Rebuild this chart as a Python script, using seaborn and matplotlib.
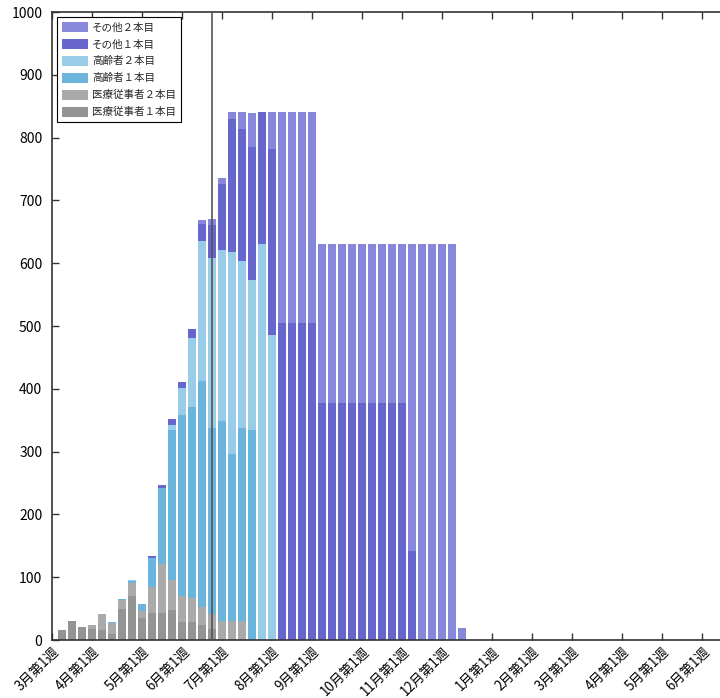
import matplotlib
matplotlib.use("Agg")
import matplotlib.pyplot as plt
import pandas as pd
import seaborn as sns

# ---- data (week index: 0 = 3月第1週) ----
weeks = list(range(1, 42))

iryo_1 = [16, 30, 21, 17, 16, 9, 49, 70, 35, 43, 43, 48, 28, 29, 24, 17] + [0] * 25
iryo_2 = [0, 0, 0, 7, 26, 18, 15, 20, 11, 42, 78, 47, 42, 38, 29, 25, 30, 30, 30] + [0] * 22
koreisha_1 = [0, 0, 0, 0, 0, 1.5, 2, 4, 12, 45, 121, 239, 288, 304, 360, 296,
              318, 266, 308, 334] + [0] * 21
koreisha_2 = [0, 0, 0, 0, 0, 0, 0, 1, 0, 0, 0, 9, 43, 110, 223, 270, 273, 322,
              266, 240, 630, 486] + [0] * 19
sonota_1 = [0] * 9 + [4, 5, 9, 10, 14, 26, 53, 105, 211, 210, 211, 210, 296,
                      504, 504, 504, 504] + [378] * 9 + [141, 0, 0, 0, 0, 0]
sonota_2 = [0] * 14 + [7, 9, 10, 12, 27, 54, 0, 58,
                       336, 336, 336, 336] + [252] * 9 + [489, 630, 630, 630, 630, 19]

series_names = ["その他２本目", "その他１本目", "高齢者２本目", "高齢者１本目",
                "医療従事者２本目", "医療従事者１本目"]
series_values = [sonota_2, sonota_1, koreisha_2, koreisha_1, iryo_2, iryo_1]
colors = ["#8787DB", "#6666CC", "#99CCE6", "#6BB4DB", "#AAAAAA", "#949494"]

tick_weeks = [0, 4, 9, 13, 17, 22, 26, 31, 35, 39, 44, 48, 52, 57, 61, 65]
tick_labels = ["3月第1週", "4月第1週", "5月第1週", "6月第1週", "7月第1週",
               "8月第1週", "9月第1週", "10月第1週", "11月第1週", "12月第1週",
               "1月第1週", "2月第1週", "3月第1週", "4月第1週", "5月第1週",
               "6月第1週"]
today_week = 15.95

# ---- build table ----
rows = []
for name, vals in zip(series_names, series_values):
    for w, v in zip(weeks, vals):
        rows.append({"week": w, "value": v, "series": name})
df = pd.DataFrame(rows)

sns.set_style("white")
plt.rcParams["font.family"] = ["Noto Sans CJK JP", "DejaVu Sans"]

fig = plt.figure(figsize=(7.2, 6.98), dpi=100)
ax = fig.add_axes([52 / 720, 58 / 698, 672 / 720, 628 / 698])

sns.histplot(data=df, x="week", weights="value", hue="series",
             hue_order=series_names, palette=dict(zip(series_names, colors)),
             multiple="stack", discrete=True, shrink=0.8, alpha=1,
             linewidth=0, ax=ax)

ax.axvline(today_week, color="#555555", lw=1.2, zorder=5)

ax.set_xlim(0, 67.2)
ax.set_ylim(0, 1000)
ax.set_xlabel("")
ax.set_ylabel("")
ax.set_yticks(range(0, 1001, 100))
ax.set_xticks(tick_weeks)
ax.set_xticklabels(tick_labels, rotation=45, ha="right", rotation_mode="anchor")

ax.tick_params(axis="both", direction="in", length=5, width=1, color="#333333",
               labelsize=10, labelcolor="black")
ax.tick_params(axis="x", top=True, bottom=True, pad=3.5, labelsize=9.6)
ax.tick_params(axis="y", left=True, right=False, pad=7)

for side in ["left", "bottom", "top"]:
    ax.spines[side].set_color("#333333")
    ax.spines[side].set_linewidth(1.2)
ax.spines["right"].set_visible(False)

sns.move_legend(ax, "upper left", bbox_to_anchor=(0.0074, 0.992), title=None,
                frameon=True, fontsize=7.6, handlelength=2.5, handleheight=1.1,
                labelspacing=0.6, borderpad=0.45, handletextpad=0.35,
                borderaxespad=0, fancybox=False, edgecolor="black",
                framealpha=1)
leg = ax.get_legend()
leg.get_frame().set_linewidth(0.8)

fig.savefig("out.png", dpi=100)
